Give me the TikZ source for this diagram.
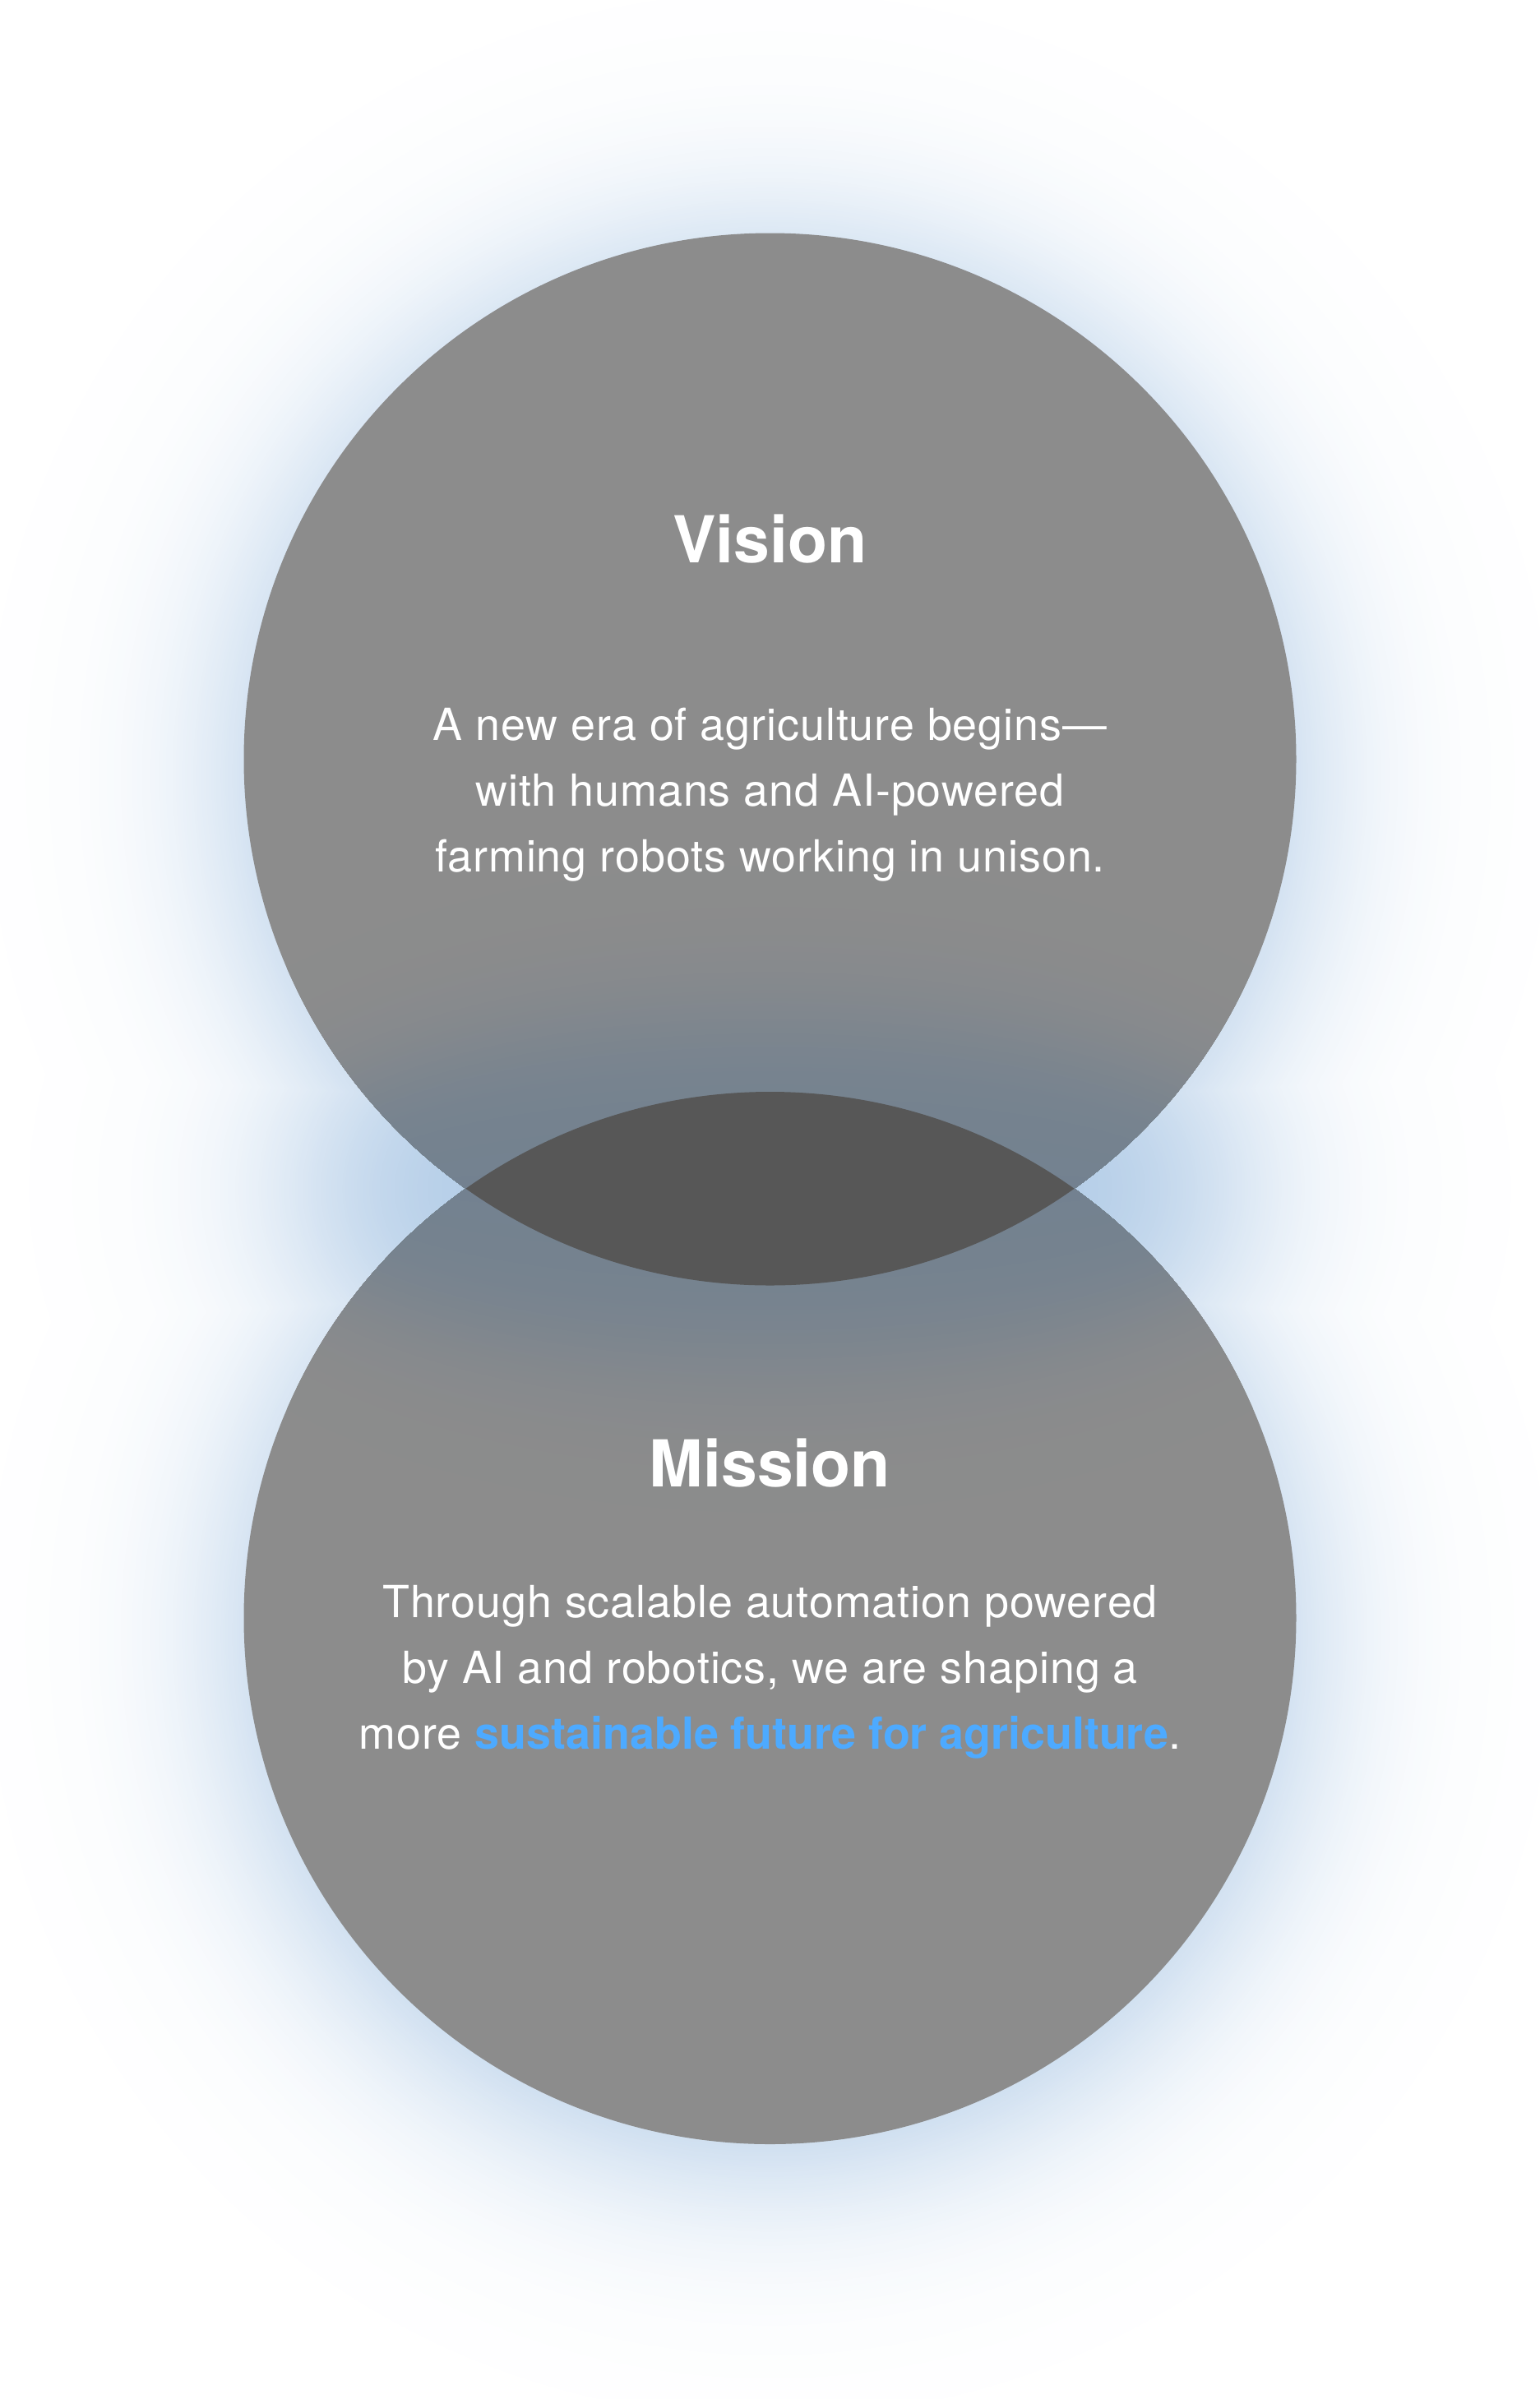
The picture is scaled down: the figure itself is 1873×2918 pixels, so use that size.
\documentclass[tikz,border=0pt]{standalone}
\usepackage{fontspec}
\setmainfont{TeX Gyre Heros}
\newfontfamily\bodyfont{TeX Gyre Heros}[LetterSpace=1.8]
\definecolor{circgray}{HTML}{8C8C8C}
\definecolor{lensgray}{HTML}{575757}
\definecolor{glowblue}{RGB}{172,200,229}
\definecolor{tintblue}{RGB}{98,122,146}
\definecolor{accent}{HTML}{4DAAFF}
\tikzset{
  titletext/.style={text=white, font=\fontsize{79}{96}\selectfont\bfseries, anchor=base, inner sep=0pt},
  bodytext/.style={text=white, font=\bodyfont\fontsize{54}{80}\selectfont, anchor=base, inner sep=0pt},
}
\begin{document}
\begin{tikzpicture}[x=1bp,y=-1bp]
\useasboundingbox (0,0) rectangle (1873,2918);
\fill[white] (0,0) rectangle (1873,2918);
\coordinate (c1) at (936.5,923.5);
\coordinate (c2) at (936.5,1968);
\coordinate (g1) at (936.5,943.5);
\coordinate (g2) at (936.5,1988);
\coordinate (w) at (936.5,1446);
% outer glow: opaque level sets, from faint to strong
\foreach \i in {1,...,90} {
  \pgfmathsetmacro\dc{68*ln(100/\i - 1)}
  \pgfmathsetmacro\rc{640+\dc}
  \pgfmathsetmacro\de{75*ln(95/\i - 1)}
  \pgfmathsetmacro\ex{max(1,560+\de)}
  \pgfmathsetmacro\ey{max(1,320+\de)}
  \fill[glowblue!\i!white] (g1) circle [radius=\rc];
  \fill[glowblue!\i!white] (g2) circle [radius=\rc];
  \fill[glowblue!\i!white] (w) ellipse [x radius=\ex, y radius=\ey];
}
% circles
\fill[circgray] (c1) circle [radius=640];
\fill[circgray] (c2) circle [radius=640];
% bluish tint inside the circles around the overlap
\begin{scope}
  \clip (c1) circle [radius=640] (c2) circle [radius=640];
  \foreach \i in {1,...,59} {
    \pgfmathsetmacro\dt{45*ln(60/\i - 1)}
    \pgfmathsetmacro\tx{max(1,620+\dt)}
    \pgfmathsetmacro\ty{max(1,210+\dt)}
    \fill[tintblue!\i!circgray] (w) ellipse [x radius=\tx, y radius=\ty];
  }
\end{scope}
% lens
\begin{scope}
  \clip (c1) circle [radius=640];
  \fill[lensgray] (c2) circle [radius=640];
\end{scope}
% texts
\node[titletext] (vt) at (936.5,684) {Vision};
\node[bodytext] (v1) at (936.5,900) {A new era of agriculture begins—};
\node[bodytext] (v2) at (936.5,980) {with humans and AI-powered};
\node[bodytext] (v3) at (936.5,1060) {farming robots working in unison.};
\node[titletext] (mt) at (936.5,1808) {Mission};
\node[bodytext] (m1) at (936.5,1967) {Through scalable automation powered};
\node[bodytext] (m2) at (936.5,2047) {by AI and robotics, we are shaping a};
\node[bodytext] (m3) at (936.5,2127) {more \textcolor{accent}{\bfseries\addfontfeature{LetterSpace=0}sustainable future for agriculture}.};
\end{tikzpicture}
\end{document}
